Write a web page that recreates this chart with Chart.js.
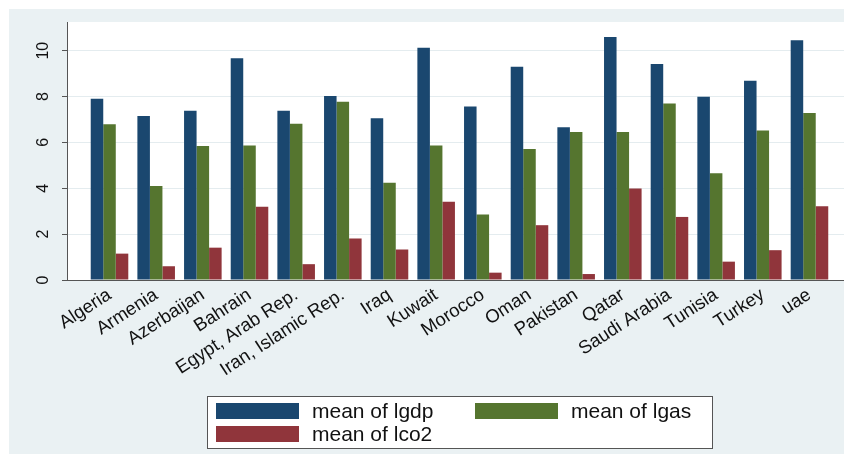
<!DOCTYPE html>
<html>
<head>
<meta charset="utf-8">
<script src="https://cdn.jsdelivr.net/npm/chart.js@4.4.1/dist/chart.umd.min.js"></script>
<style>
  html, body { margin: 0; padding: 0; background: #ffffff; }
  #wrap { width: 844px; height: 455px; }
</style>
</head>
<body>
<div id="wrap"><canvas id="c" width="844" height="455"></canvas></div>
<script>
// Country groups along the x axis
const countries = [
  'Algeria', 'Armenia', 'Azerbaijan', 'Bahrain', 'Egypt, Arab Rep.',
  'Iran, Islamic Rep.', 'Iraq', 'Kuwait', 'Morocco', 'Oman', 'Pakistan',
  'Qatar', 'Saudi Arabia', 'Tunisia', 'Turkey', 'uae'
];

// Group means per country
const meanLgdp = [7.90, 7.15, 7.38, 9.67, 7.38, 8.02, 7.05, 10.13, 7.57, 9.30, 6.66, 10.60, 9.42, 7.99, 8.69, 10.45];
const meanLgas = [6.79, 4.10, 5.84, 5.87, 6.81, 7.77, 4.24, 5.87, 2.86, 5.71, 6.45, 6.45, 7.70, 4.65, 6.52, 7.28];
const meanLco2 = [1.15, 0.60, 1.41, 3.19, 0.69, 1.81, 1.33, 3.41, 0.32, 2.39, 0.26, 3.99, 2.75, 0.80, 1.30, 3.22];

const seriesNames = ['mean of lgdp', 'mean of lgas', 'mean of lco2'];
const yTicks = [0, 2, 4, 6, 8, 10];

const NAVY = '#1a476f';
const FOREST = '#55752f';
const MAROON = '#90353b';
const GRAPH_BG = '#eaf1f3';
const AXIS = '#555555';

const toPoints = arr => arr.map((v, i) => ({ x: i, y: v }));

// Graph region tint and white plot region
const framePlugin = {
  id: 'frame',
  beforeDraw(chart) {
    const { ctx, chartArea: a, width, height } = chart;
    ctx.save();
    ctx.fillStyle = '#ffffff';
    ctx.fillRect(0, 0, width, height);
    ctx.fillStyle = GRAPH_BG;
    ctx.fillRect(9, 9, width - 9, height - 10);
    ctx.fillStyle = '#ffffff';
    ctx.fillRect(a.left, a.top, a.right - a.left, a.bottom - a.top);
    ctx.restore();
  }
};

// Boxed two-column key under the plot
const keyPlugin = {
  id: 'key',
  afterDraw(chart) {
    const ctx = chart.ctx;
    const box = { x: 207, y: 396, w: 505, h: 52 };
    const cols = [216, 475];
    const rows = [403, 426];
    ctx.save();
    ctx.fillStyle = '#ffffff';
    ctx.fillRect(box.x, box.y, box.w, box.h);
    ctx.strokeStyle = AXIS;
    ctx.lineWidth = 1;
    ctx.strokeRect(box.x + 0.5, box.y + 0.5, box.w, box.h);
    ctx.font = '21px "Liberation Sans", Arial, sans-serif';
    ctx.textBaseline = 'middle';
    ctx.textAlign = 'left';
    chart.data.datasets.forEach((d, i) => {
      const x = cols[i % 2];
      const y = rows[Math.floor(i / 2)];
      ctx.fillStyle = d.backgroundColor;
      ctx.fillRect(x, y, 83, 16);
      ctx.fillStyle = '#111111';
      ctx.fillText(d.label, x + 96, y + 9);
    });
    ctx.restore();
  }
};

new Chart(document.getElementById('c'), {
  type: 'bar',
  data: {
    datasets: [
      { label: seriesNames[0], data: toPoints(meanLgdp), backgroundColor: NAVY },
      { label: seriesNames[1], data: toPoints(meanLgas), backgroundColor: FOREST },
      { label: seriesNames[2], data: toPoints(meanLco2), backgroundColor: MAROON }
    ]
  },
  options: {
    responsive: false,
    devicePixelRatio: 1,
    animation: false,
    layout: { padding: { top: 22, left: 0, right: 0, bottom: 0 } },
    datasets: {
      bar: { categoryPercentage: 0.805, barPercentage: 1.0, borderWidth: 0 }
    },
    plugins: {
      legend: { display: false },
      tooltip: { enabled: false },
      title: { display: false }
    },
    scales: {
      x: {
        type: 'linear',
        bounds: 'data',
        offset: false,
        min: -0.911,
        max: 15.74,
        afterBuildTicks: s => { s.ticks = countries.map((c, i) => ({ value: i })); },
        afterFit: s => { s.height = 175; },
        ticks: {
          autoSkip: false,
          minRotation: 33,
          maxRotation: 33,
          padding: -4,
          color: '#111111',
          font: { family: '"Liberation Sans", Arial, sans-serif', size: 18.5 },
          callback: v => countries[v]
        },
        grid: { display: false },
        border: { display: true, color: AXIS, width: 1 }
      },
      y: {
        bounds: 'data',
        min: 0,
        max: 11.25,
        afterBuildTicks: s => { s.ticks = yTicks.map(v => ({ value: v })); },
        afterFit: s => { s.width = 67; },
        ticks: {
          minRotation: 90,
          maxRotation: 90,
          crossAlign: 'center',
          padding: 10,
          color: '#111111',
          font: { family: '"Liberation Sans", Arial, sans-serif', size: 16 }
        },
        grid: {
          color: '#e4ecef',
          lineWidth: 1,
          tickLength: 5,
          tickColor: AXIS
        },
        border: { display: true, color: AXIS, width: 1 }
      }
    }
  },
  plugins: [framePlugin, keyPlugin]
});
</script>
</body>
</html>
